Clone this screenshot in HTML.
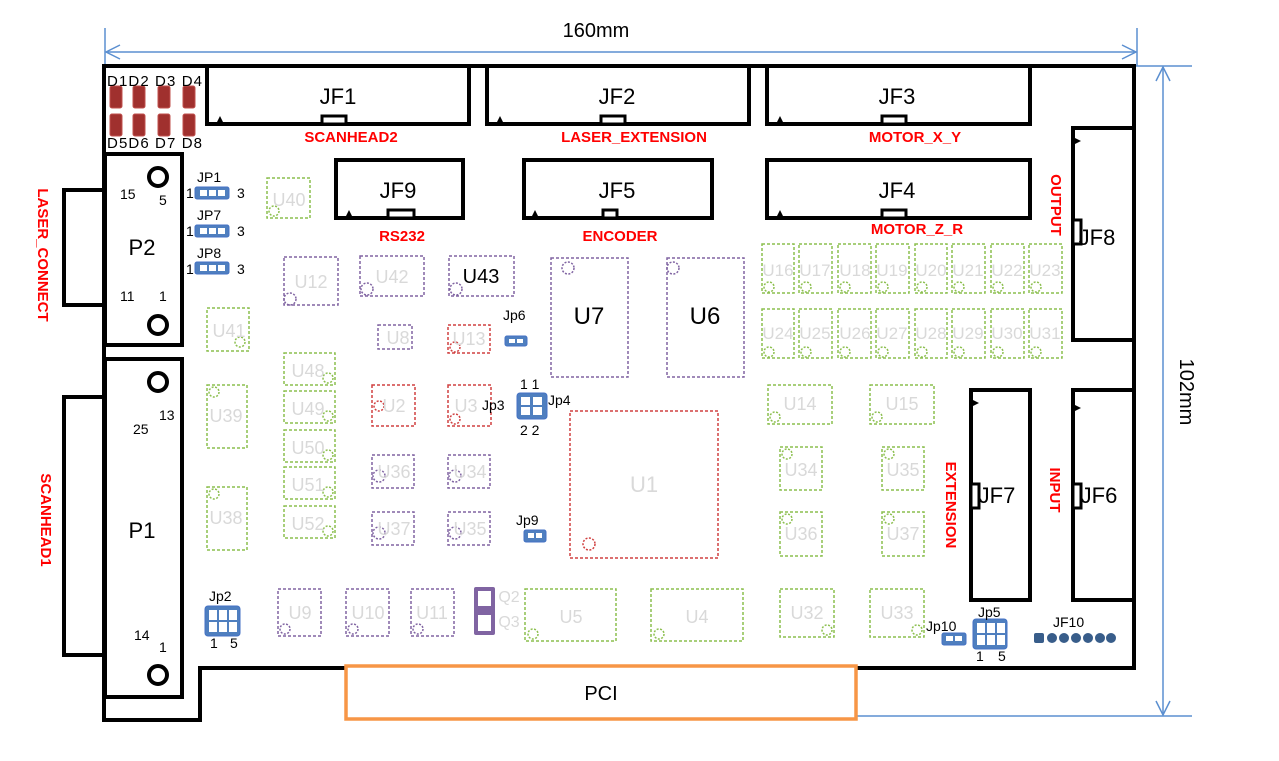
<!DOCTYPE html>
<html><head><meta charset="utf-8"><style>
html,body{margin:0;padding:0;background:#fff;}
svg{display:block;font-family:"Liberation Sans",sans-serif;}
.c{fill:none;stroke-width:1.5;stroke-dasharray:3 2;}
.g{stroke:#8cbf4f}.p{stroke:#8064a2}.r{stroke:#d04040}
.l{fill:#d9d9d9;font-size:18px;text-anchor:middle}
.k{fill:#000;font-size:14px}
.red{fill:#ff0000;font-size:15px;font-weight:bold;text-anchor:middle}
.bx{fill:none;stroke:#000;stroke-width:4}
.big{font-size:22px;text-anchor:middle;fill:#000}
.jp{fill:#4f7fbf;stroke:#4472c4;stroke-width:1}
</style></head><body>
<svg width="1279" height="761" viewBox="0 0 1279 761">
<g stroke="#5b8fd0" stroke-width="1.5" fill="none">
<line x1="105" y1="28" x2="105" y2="66"/><line x1="1137" y1="28" x2="1137" y2="66"/>
<line x1="106" y1="52" x2="1136" y2="52"/>
<polyline points="120,45 106,52 120,59"/><polyline points="1122,45 1136,52 1122,59"/>
<line x1="1134" y1="66" x2="1192" y2="66"/><line x1="856" y1="716" x2="1192" y2="716"/>
<line x1="1163" y1="67" x2="1163" y2="715"/>
<polyline points="1156,81 1163,67 1170,81"/><polyline points="1156,701 1163,715 1170,701"/>
</g>
<text x="596" y="37" font-size="20" text-anchor="middle">160mm</text>
<text x="1180" y="392" font-size="20" text-anchor="middle" transform="rotate(90 1180 392)">102mm</text>
<polyline class="bx" points="856,668 1134,668 1134,66 104,66 104,720 200,720 200,668 346,668"/>
<rect x="346" y="666" width="510" height="53" fill="none" stroke="#f79646" stroke-width="3.5"/>
<text x="601" y="700" font-size="20" text-anchor="middle">PCI</text>
<polyline class="bx" points="105,190 64,190 64,305 105,305" stroke-width="1.5"/>
<polyline class="bx" points="105,397 64,397 64,655 105,655" stroke-width="1.5"/>
<rect class="bx" x="105" y="154" width="77" height="191" fill="#fff"/>
<rect class="bx" x="105" y="359" width="77" height="338" fill="#fff"/>
<g fill="none" stroke="#000" stroke-width="4"><circle cx="158" cy="177" r="9"/><circle cx="158" cy="325" r="9"/><circle cx="158" cy="382" r="9"/><circle cx="158" cy="675" r="9"/></g>
<text class="big" x="142" y="255" font-size="26">P2</text>
<text class="big" x="142" y="538" font-size="26">P1</text>
<g class="k"><text x="120" y="199">15</text><text x="159" y="205">5</text><text x="120" y="301">11</text><text x="159" y="301">1</text>
<text x="159" y="420">13</text><text x="133" y="434">25</text><text x="134" y="640">14</text><text x="159" y="652">1</text></g>
<g fill="#a0302e" stroke="#c0504d"><rect x="110" y="86" width="12" height="22" rx="2"/><rect x="133" y="86" width="12" height="22" rx="2"/><rect x="158" y="86" width="12" height="22" rx="2"/><rect x="183" y="86" width="12" height="22" rx="2"/>
<rect x="110" y="114" width="12" height="22" rx="2"/><rect x="133" y="114" width="12" height="22" rx="2"/><rect x="158" y="114" width="12" height="22" rx="2"/><rect x="183" y="114" width="12" height="22" rx="2"/></g>
<text x="107" y="86" font-size="15" textLength="95">D1D2 D3 D4</text>
<text x="107" y="148" font-size="15" textLength="95">D5D6 D7 D8</text>
<g class="bx">
<polyline points="207,66 207,124 469,124 469,66"/>
<polyline points="487,66 487,124 749,124 749,66"/>
<polyline points="767,66 767,124 1030,124 1030,66"/>
<rect x="336" y="160" width="127" height="58"/>
<rect x="524" y="160" width="188" height="58"/>
<rect x="767" y="160" width="263" height="58"/>
<rect x="1073" y="128" width="61" height="212"/>
<rect x="971" y="390" width="59" height="210"/>
<rect x="1073" y="390" width="61" height="210"/>
</g>
<g fill="#fff" stroke="#000" stroke-width="3">
<rect x="322" y="116" width="24" height="8"/><rect x="601" y="116" width="24" height="8"/><rect x="882" y="116" width="24" height="8"/>
<rect x="388" y="210" width="26" height="8"/><rect x="603" y="210" width="14" height="8"/><rect x="882" y="210" width="24" height="8"/>
<rect x="1073" y="220" width="8" height="24"/><rect x="971" y="484" width="8" height="24"/><rect x="1073" y="484" width="8" height="24"/>
</g>
<g fill="#000"><path d="M216,124 l4,-8 l4,8z"/><path d="M496,124 l4,-8 l4,8z"/><path d="M776,124 l4,-8 l4,8z"/>
<path d="M345,218 l4,-8 l4,8z"/><path d="M531,218 l4,-8 l4,8z"/><path d="M776,218 l4,-8 l4,8z"/>
<path d="M1073,137 l8,4 l-8,4z"/><path d="M971,399 l8,4 l-8,4z"/><path d="M1073,404 l8,4 l-8,4z"/></g>
<g class="big"><text x="338" y="104">JF1</text><text x="617" y="104">JF2</text><text x="897" y="104">JF3</text>
<text x="398" y="198">JF9</text><text x="617" y="198">JF5</text><text x="897" y="198">JF4</text>
<text x="1097" y="245">JF8</text><text x="997" y="503">JF7</text><text x="1099" y="503">JF6</text></g>
<g class="red"><text x="351" y="142">SCANHEAD2</text><text x="634" y="142">LASER_EXTENSION</text><text x="915" y="142">MOTOR_X_Y</text>
<text x="402" y="241">RS232</text><text x="620" y="241">ENCODER</text><text x="917" y="234">MOTOR_Z_R</text>
<text x="1051" y="205" transform="rotate(90 1051 205)">OUTPUT</text>
<text x="946" y="505" transform="rotate(90 946 505)">EXTENSION</text>
<text x="1050" y="490" transform="rotate(90 1050 490)">INPUT</text>
<text x="38" y="255" transform="rotate(90 38 255)">LASER_CONNECT</text>
<text x="41" y="520" transform="rotate(90 41 520)">SCANHEAD1</text></g>
<g class="c g">
<rect x="267" y="178" width="43" height="40"/><rect x="207" y="308" width="42" height="43"/>
<rect x="284" y="353" width="51" height="32"/><rect x="284" y="391" width="51" height="32"/><rect x="284" y="430" width="51" height="32"/><rect x="284" y="467" width="51" height="32"/><rect x="284" y="506" width="51" height="32"/>
<rect x="207" y="385" width="40" height="63"/><rect x="207" y="487" width="40" height="63"/>
<rect x="525" y="589" width="91" height="52"/><rect x="651" y="589" width="92" height="52"/>
<rect x="762" y="244" width="32" height="49"/><rect x="799" y="244" width="33" height="49"/><rect x="838" y="244" width="33" height="49"/><rect x="876" y="244" width="33" height="49"/><rect x="915" y="244" width="32" height="49"/><rect x="952" y="244" width="33" height="49"/><rect x="991" y="244" width="33" height="49"/><rect x="1029" y="244" width="33" height="49"/>
<rect x="762" y="309" width="32" height="49"/><rect x="799" y="309" width="33" height="49"/><rect x="838" y="309" width="33" height="49"/><rect x="876" y="309" width="33" height="49"/><rect x="915" y="309" width="32" height="49"/><rect x="952" y="309" width="33" height="49"/><rect x="991" y="309" width="33" height="49"/><rect x="1029" y="309" width="33" height="49"/>
<rect x="768" y="385" width="64" height="39"/><rect x="870" y="385" width="64" height="39"/>
<rect x="780" y="447" width="42" height="43"/><rect x="882" y="447" width="42" height="43"/>
<rect x="780" y="512" width="42" height="44"/><rect x="882" y="512" width="42" height="44"/>
<rect x="780" y="589" width="54" height="48"/><rect x="870" y="589" width="54" height="48"/>
</g>
<g class="c p">
<rect x="284" y="257" width="54" height="48"/><rect x="360" y="256" width="64" height="40"/><rect x="449" y="256" width="65" height="40"/>
<rect x="378" y="325" width="34" height="24"/>
<rect x="372" y="455" width="42" height="33"/><rect x="448" y="455" width="42" height="33"/><rect x="372" y="512" width="42" height="33"/><rect x="448" y="512" width="42" height="33"/>
<rect x="278" y="589" width="43" height="47"/><rect x="346" y="589" width="43" height="47"/><rect x="411" y="589" width="43" height="47"/>
<rect x="551" y="258" width="77" height="119"/><rect x="667" y="258" width="77" height="119"/>
</g>
<g class="c r"><rect x="448" y="325" width="42" height="28"/><rect x="372" y="385" width="43" height="41"/><rect x="448" y="385" width="43" height="41"/><rect x="570" y="411" width="148" height="147"/></g>
<g fill="none" stroke-width="1.5" stroke-dasharray="2 1.5">
<g class="g"><circle cx="274" cy="211" r="5"/><circle cx="240" cy="342" r="5"/><circle cx="328" cy="378" r="5"/><circle cx="328" cy="416" r="5"/><circle cx="328" cy="455" r="5"/><circle cx="328" cy="492" r="5"/><circle cx="328" cy="531" r="5"/><circle cx="214" cy="392" r="5"/><circle cx="214" cy="494" r="5"/><circle cx="533" cy="634" r="5"/><circle cx="659" cy="634" r="5"/>
<circle cx="769" cy="287" r="5"/><circle cx="806" cy="287" r="5"/><circle cx="845" cy="287" r="5"/><circle cx="883" cy="287" r="5"/><circle cx="922" cy="287" r="5"/><circle cx="959" cy="287" r="5"/><circle cx="998" cy="287" r="5"/><circle cx="1036" cy="287" r="5"/>
<circle cx="769" cy="352" r="5"/><circle cx="806" cy="352" r="5"/><circle cx="845" cy="352" r="5"/><circle cx="883" cy="352" r="5"/><circle cx="922" cy="352" r="5"/><circle cx="959" cy="352" r="5"/><circle cx="998" cy="352" r="5"/><circle cx="1036" cy="352" r="5"/>
<circle cx="775" cy="417" r="5"/><circle cx="877" cy="417" r="5"/><circle cx="787" cy="454" r="5"/><circle cx="889" cy="454" r="5"/><circle cx="787" cy="519" r="5"/><circle cx="889" cy="519" r="5"/><circle cx="827" cy="630" r="5"/><circle cx="917" cy="630" r="5"/></g>
<g class="p"><circle cx="290" cy="299" r="6"/><circle cx="367" cy="289" r="6"/><circle cx="456" cy="289" r="6"/><circle cx="568" cy="268" r="6"/><circle cx="673" cy="268" r="6"/>
<circle cx="379" cy="476" r="6"/><circle cx="455" cy="476" r="6"/><circle cx="379" cy="533" r="6"/><circle cx="455" cy="533" r="6"/><circle cx="285" cy="629" r="5"/><circle cx="353" cy="629" r="5"/><circle cx="418" cy="629" r="5"/></g>
<g class="r"><circle cx="455" cy="347" r="5"/><circle cx="379" cy="406" r="5"/><circle cx="455" cy="419" r="5"/><circle cx="589" cy="544" r="6"/></g>
</g>
<g class="l">
<text x="289" y="206">U40</text><text x="311" y="288">U12</text><text x="392" y="283">U42</text><text x="229" y="337">U41</text><text x="398" y="344">U8</text><text x="469" y="345">U13</text>
<text x="308" y="377">U48</text><text x="308" y="415">U49</text><text x="308" y="454">U50</text><text x="308" y="491">U51</text><text x="308" y="530">U52</text>
<text x="226" y="422">U39</text><text x="226" y="524">U38</text><text x="394" y="412">U2</text><text x="466" y="412">U3</text>
<text x="394" y="478">U36</text><text x="470" y="478">U34</text><text x="394" y="535">U37</text><text x="470" y="535">U35</text>
<text x="300" y="619">U9</text><text x="368" y="619">U10</text><text x="432" y="619">U11</text><text x="509" y="602" font-size="16">Q2</text><text x="509" y="627" font-size="16">Q3</text>
<text x="571" y="623">U5</text><text x="697" y="623">U4</text><text x="644" y="492" font-size="22">U1</text>
<g font-size="17"><text x="778" y="276">U16</text><text x="815" y="276">U17</text><text x="855" y="276">U18</text><text x="892" y="276">U19</text><text x="931" y="276">U20</text><text x="968" y="276">U21</text><text x="1007" y="276">U22</text><text x="1045" y="276">U23</text>
<text x="778" y="339">U24</text><text x="815" y="339">U25</text><text x="855" y="339">U26</text><text x="892" y="339">U27</text><text x="931" y="339">U28</text><text x="968" y="339">U29</text><text x="1007" y="339">U30</text><text x="1045" y="339">U31</text></g>
<text x="800" y="410">U14</text><text x="902" y="410">U15</text><text x="801" y="476">U34</text><text x="903" y="476">U35</text><text x="801" y="540">U36</text><text x="903" y="540">U37</text><text x="807" y="619">U32</text><text x="897" y="619">U33</text>
</g>
<g class="big"><text x="481" y="283" font-size="20">U43</text><text x="589" y="324" font-size="24">U7</text><text x="705" y="324" font-size="24">U6</text></g>
<g class="jp"><rect x="195" y="187" width="34" height="12" rx="2"/><rect x="195" y="225" width="34" height="12" rx="2"/><rect x="195" y="262" width="34" height="12" rx="2"/>
<rect x="505" y="336" width="22" height="10" rx="2"/><rect x="517" y="393" width="30" height="26" rx="3"/><rect x="524" y="530" width="22" height="12" rx="2"/>
<rect x="205" y="606" width="35" height="30" rx="3"/><rect x="942" y="633" width="24" height="12" rx="2"/><rect x="973" y="619" width="34" height="30" rx="3"/></g>
<g fill="#fff"><rect x="200" y="190" width="7" height="6"/><rect x="209" y="190" width="7" height="6"/><rect x="218" y="190" width="7" height="6"/>
<rect x="200" y="228" width="7" height="6"/><rect x="209" y="228" width="7" height="6"/><rect x="218" y="228" width="7" height="6"/>
<rect x="200" y="265" width="7" height="6"/><rect x="209" y="265" width="7" height="6"/><rect x="218" y="265" width="7" height="6"/>
<rect x="509" y="339" width="6" height="4"/><rect x="517" y="339" width="6" height="4"/><rect x="528" y="533" width="6" height="5"/><rect x="536" y="533" width="6" height="5"/>
<rect x="946" y="636" width="7" height="5"/><rect x="955" y="636" width="7" height="5"/>
<rect x="521" y="397" width="9" height="8"/><rect x="533" y="397" width="9" height="8"/><rect x="521" y="407" width="9" height="8"/><rect x="533" y="407" width="9" height="8"/>
<rect x="209" y="610" width="8" height="10"/><rect x="219" y="610" width="8" height="10"/><rect x="229" y="610" width="8" height="10"/><rect x="209" y="622" width="8" height="10"/><rect x="219" y="622" width="8" height="10"/><rect x="229" y="622" width="8" height="10"/>
<rect x="977" y="623" width="8" height="10"/><rect x="987" y="623" width="8" height="10"/><rect x="997" y="623" width="8" height="10"/><rect x="977" y="635" width="8" height="10"/><rect x="987" y="635" width="8" height="10"/><rect x="997" y="635" width="8" height="10"/></g>
<g fill="#385d8a"><rect x="1034" y="633" width="10" height="10" rx="2"/><circle cx="1052" cy="638" r="5"/><circle cx="1064" cy="638" r="5"/><circle cx="1076" cy="638" r="5"/><circle cx="1088" cy="638" r="5"/><circle cx="1100" cy="638" r="5"/><circle cx="1111" cy="638" r="5"/></g>
<rect x="474" y="587" width="21" height="48" rx="2" fill="#8064a2"/><rect x="478" y="591" width="13" height="15" fill="#fff"/><rect x="478" y="615" width="13" height="16" fill="#fff"/>
<g class="k"><text x="197" y="182">JP1</text><text x="197" y="220">JP7</text><text x="197" y="258">JP8</text>
<text x="186" y="198">1</text><text x="237" y="198">3</text><text x="186" y="236">1</text><text x="237" y="236">3</text><text x="186" y="274">1</text><text x="237" y="274">3</text>
<text x="503" y="320">Jp6</text><text x="520" y="389">1 1</text><text x="520" y="435">2 2</text><text x="482" y="410">Jp3</text><text x="548" y="405">Jp4</text><text x="516" y="525">Jp9</text>
<text x="209" y="601">Jp2</text><text x="210" y="648">1</text><text x="230" y="648">5</text>
<text x="926" y="631">Jp10</text><text x="978" y="617">Jp5</text><text x="976" y="661">1</text><text x="998" y="661">5</text><text x="1053" y="627">JF10</text></g>
</svg>
</body></html>
